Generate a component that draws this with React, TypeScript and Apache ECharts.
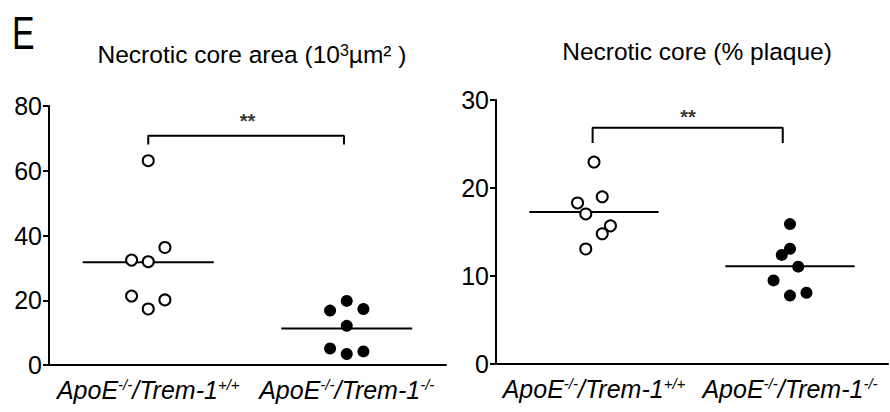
import React, { useEffect, useRef } from "react";
import * as echarts from "echarts";

// ---- data ----
const categories = ["WT", "KO"];

const areaWT = [63.1, 36.3, 32.4, 31.9, 21.3, 20.1, 17.3];
const areaKO = [19.8, 16.8, 17.3, 12.1, 5.1, 3.4, 4.2];
const pctWT = [22.95, 19.0, 18.3, 17.05, 15.7, 14.8, 13.07];
const pctKO = [15.9, 13.1, 12.4, 11.06, 9.5, 8.1, 7.77];

// jitter column slots for each point
const slotAreaWT = [0, 2, -2, 0, -2, 2, 0];
const slotAreaKO = [0, -2, 2, 0, -2, 0, 2];
const slotPctWT = [0, 1, -2, -1, 2, 1, -1];
const slotPctKO = [0, 0, -1, 1, -2, 2, 0];

const areaTicks = [0, 80, 20];
const pctTicks = [0, 30, 10];

const FONT = "'Liberation Sans', Arial, Helvetica, sans-serif";
const SLOT = 0.042;
const HALF = 0.33;

const mean = (a: number[]) => a.reduce((s, v) => s + v, 0) / a.length;

const pts = (vals: number[], slots: number[], center: number) =>
  vals.map((v, i) => [center + slots[i] * SLOT, v]);

const labelFmt = (v: string) =>
  v === "WT"
    ? "{a|ApoE}{s|-/-}{a|/Trem-1}{s|+/+}"
    : "{a|ApoE}{s|-/-}{a|/Trem-1}{s|-/-}";

const catAxis = (gi: number) => ({
  type: "category",
  gridIndex: gi,
  data: categories,
  boundaryGap: true,
  axisLine: { lineStyle: { color: "#000", width: 2 } },
  axisTick: { alignWithLabel: true, length: 6, lineStyle: { color: "#000", width: 2 } },
  axisLabel: {
    interval: 0,
    margin: 12,
    color: "#000",
    formatter: labelFmt,
    rich: {
      a: { fontSize: 25, fontStyle: "italic", fontFamily: FONT, color: "#000" },
      s: { fontSize: 15, fontStyle: "italic", fontFamily: FONT, color: "#000", verticalAlign: "top" },
    },
  },
});

const valXAxis = (gi: number) => ({
  type: "value",
  gridIndex: gi,
  min: 0,
  max: 2,
  show: false,
});

const yAxis = (gi: number, t: number[]) => ({
  type: "value",
  gridIndex: gi,
  min: t[0],
  max: t[1],
  interval: t[2],
  splitLine: { show: false },
  axisLine: { show: true, lineStyle: { color: "#000", width: 2 } },
  axisTick: { show: true, length: 6, lineStyle: { color: "#000", width: 2 } },
  axisLabel: { color: "#000", fontSize: 25, fontFamily: FONT, margin: 7 },
});

const open = { color: "#fff", borderColor: "#000", borderWidth: 2, opacity: 1 };
const filled = { color: "#000", borderColor: "#000", borderWidth: 0, opacity: 1 };

const scatter = (xi: number, yi: number, data: number[][], style: any, size: number) => ({
  type: "scatter",
  xAxisIndex: xi,
  yAxisIndex: yi,
  data,
  symbol: "circle",
  symbolSize: size,
  itemStyle: style,
  z: 3,
});

const lineS = (xi: number, yi: number, data: number[][]) => ({
  type: "line",
  xAxisIndex: xi,
  yAxisIndex: yi,
  data,
  symbol: "none",
  lineStyle: { color: "#000", width: 2 },
  z: 2,
});

const meanLine = (xi: number, yi: number, vals: number[], c: number) =>
  lineS(xi, yi, [
    [c - HALF, mean(vals)],
    [c + HALF, mean(vals)],
  ]);

const bracket = (xi: number, yi: number, x0: number, x1: number, top: number, arm: number) =>
  lineS(xi, yi, [
    [x0, arm],
    [x0, top],
    [x1, top],
    [x1, arm],
  ]);

const stars = (xi: number, yi: number, x: number, y: number) => ({
  type: "scatter",
  xAxisIndex: xi,
  yAxisIndex: yi,
  data: [[x, y]],
  symbolSize: 1,
  itemStyle: { color: "rgba(0,0,0,0)" },
  label: {
    show: true,
    position: "inside",
    formatter: "**",
    fontSize: 20,
    fontWeight: "bold",
    fontFamily: FONT,
    color: "#000",
  },
  silent: true,
});

export default function App() {
  const ref = useRef<HTMLDivElement>(null);
  useEffect(() => {
    document.body.style.margin = "0";
    const chart = echarts.init(ref.current!, null, { renderer: "svg" });
    chart.setOption({
      animation: false,
      backgroundColor: "#fff",
      title: [
        {
          text: "{n|Necrotic core area (10}{s|3}{n|µm² )}",
          left: 247,
          top: 37,
          textAlign: "center",
          textStyle: {
            fontWeight: "normal",
            rich: {
              n: { fontSize: 24.5, fontWeight: "normal", fontFamily: FONT, color: "#000" },
              s: { fontSize: 16, fontWeight: "normal", fontFamily: FONT, color: "#000", verticalAlign: "top" },
            },
          },
        },
        {
          text: "Necrotic core (% plaque)",
          left: 692,
          top: 34,
          textAlign: "center",
          textStyle: { fontSize: 24.5, fontWeight: "normal", fontFamily: FONT, color: "#000" },
        },
      ],
      graphic: [
        {
          type: "text",
          x: 12,
          y: 33,
          scaleX: 0.72,
          style: {
            text: "E",
            font: "47px 'Liberation Sans', Arial, sans-serif",
            fill: "#000",
            verticalAlign: "middle",
          },
        },
      ],
      grid: [
        { left: 49, top: 106, width: 397, height: 259 },
        { left: 496, top: 100, width: 392, height: 264 },
      ],
      xAxis: [catAxis(0), valXAxis(0), catAxis(1), valXAxis(1)],
      yAxis: [yAxis(0, areaTicks), yAxis(1, pctTicks)],
      series: [
        scatter(1, 0, pts(areaWT, slotAreaWT, 0.5), open, 11),
        scatter(1, 0, pts(areaKO, slotAreaKO, 1.5), filled, 12),
        meanLine(1, 0, areaWT, 0.5),
        meanLine(1, 0, areaKO, 1.5),
        bracket(1, 0, 0.5, 1.486, 70.8, 68.1),
        stars(1, 0, 1.0, 75.5),
        scatter(3, 1, pts(pctWT, slotPctWT, 0.5), open, 11),
        scatter(3, 1, pts(pctKO, slotPctKO, 1.5), filled, 12),
        meanLine(3, 1, pctWT, 0.5),
        meanLine(3, 1, pctKO, 1.5),
        bracket(3, 1, 0.493, 1.463, 26.85, 25.1),
        stars(3, 1, 0.98, 28.1),
      ],
    });
    return () => chart.dispose();
  }, []);
  return <div ref={ref} style={{ width: 890, height: 412 }} />;
}
